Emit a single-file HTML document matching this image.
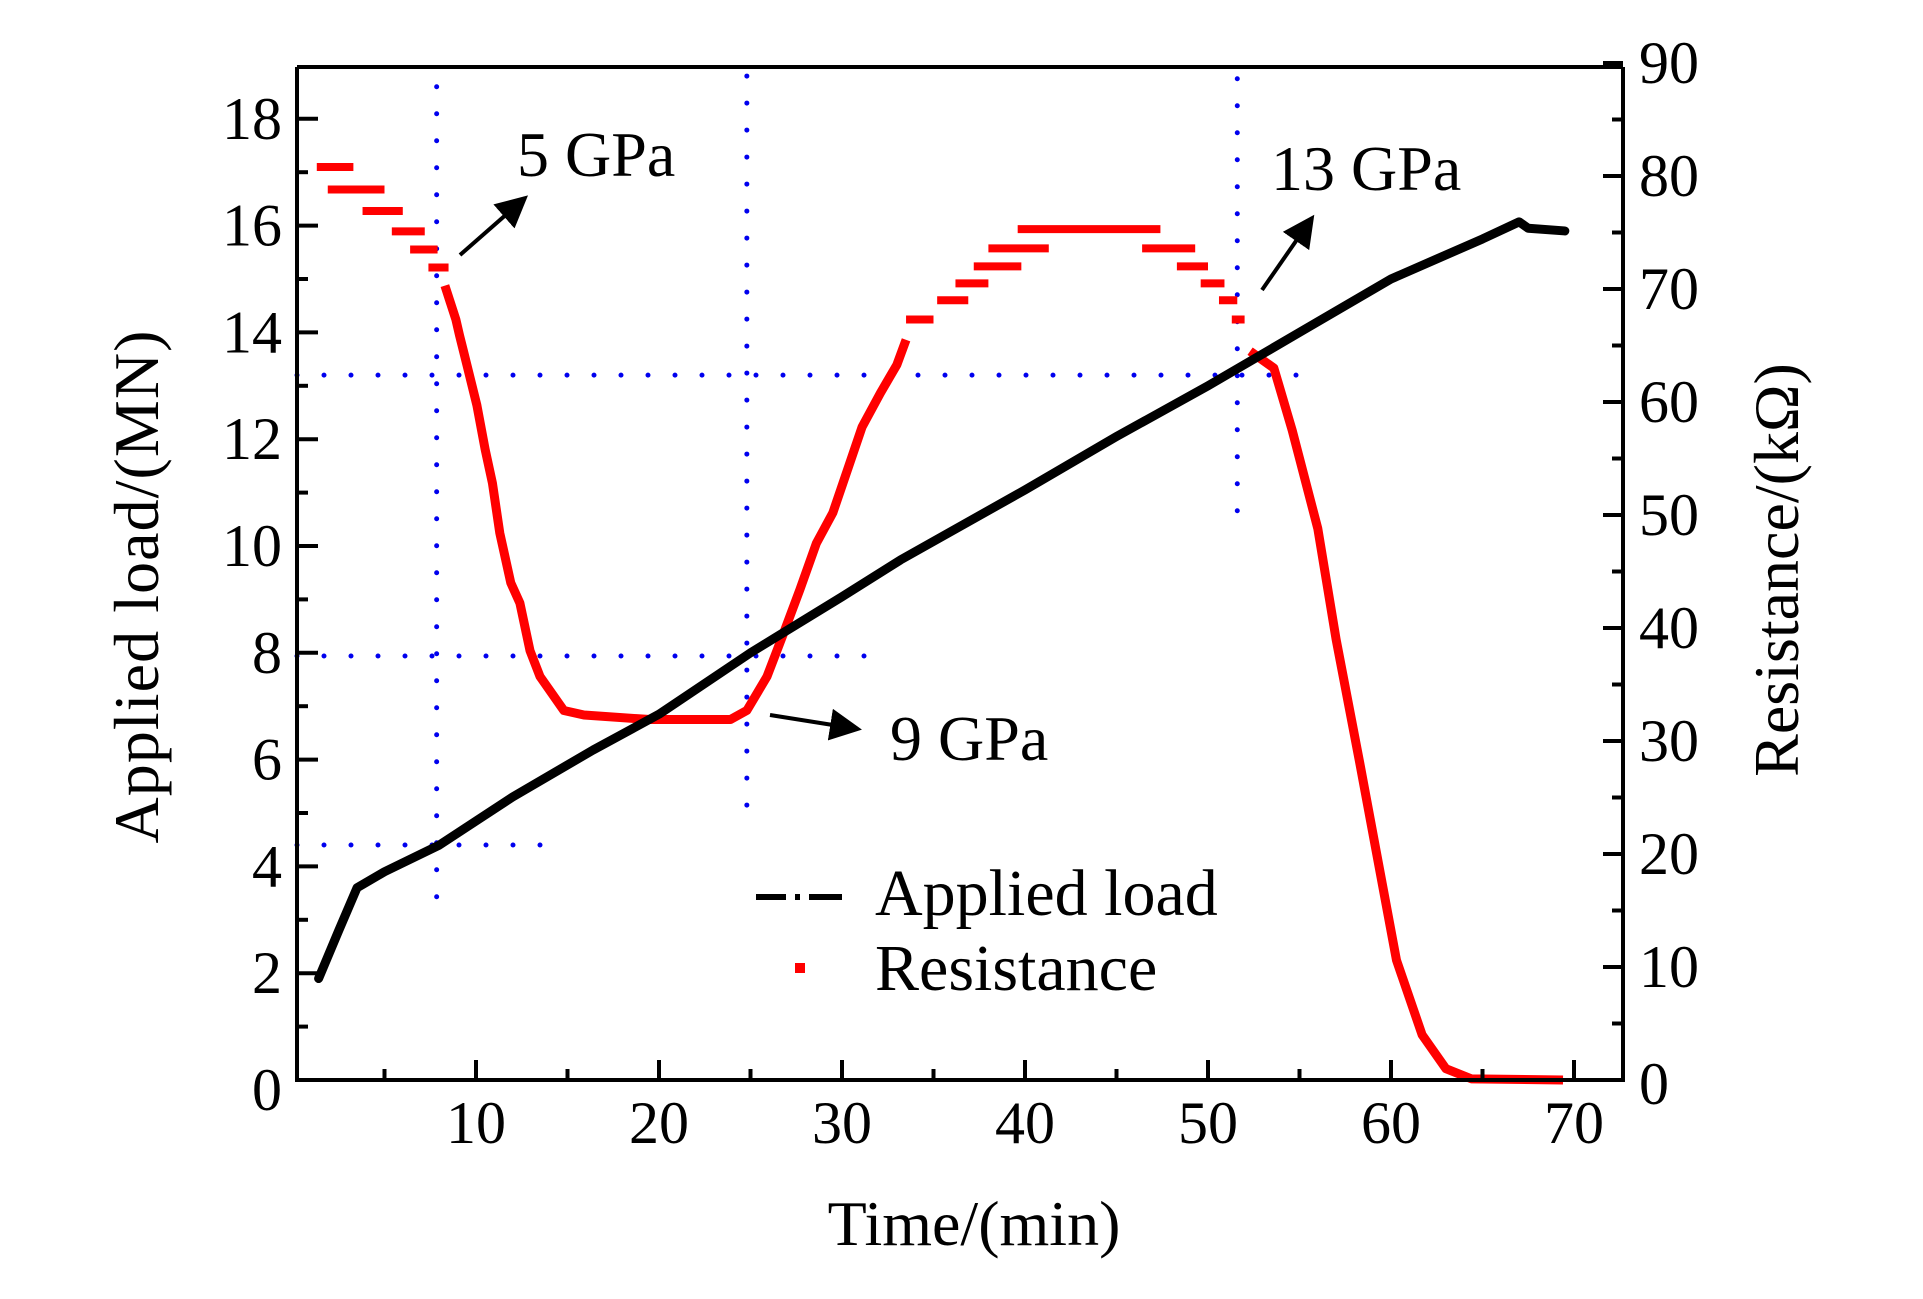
<!DOCTYPE html>
<html><head><meta charset="utf-8"><style>
html,body{margin:0;padding:0;background:#fff;}
svg{display:block;}
text{font-family:"Liberation Serif",serif;fill:#000;}
</style></head><body>
<svg id="chart" width="1923" height="1299" viewBox="0 0 1923 1299" xmlns="http://www.w3.org/2000/svg">
<g id="grid"></g><g id="series"></g><g id="axes"></g><g id="annot"></g>
</svg>
<script>
const timeTicks=[10,20,30,40,50,60,70];
const loadTicks=[0,2,4,6,8,10,12,14,16,18];
const resTicks=[0,10,20,30,40,50,60,70,80,90];
const loadT=[1.4,2.5,3.5,5,8,10,12,16.4,20,25,30,33.2,40,45,50,55,60,65,67,67.5,69.5];
const loadV=[1.9,2.8,3.6,3.9,4.4,4.85,5.3,6.18,6.85,8.0,9.05,9.74,11.05,12.05,13.0,14.0,15.0,15.75,16.07,15.95,15.9];
const stepStart=[1.3,1.9,3.8,5.4,6.4,7.4,33.5,35.2,36.2,37.2,38,39.6,46.4,48.3,49.6,50.6,51.3];
const stepEnd=[3.3,5.0,6.0,7.2,7.9,8.5,35,36.9,38,39.8,41.3,47.4,49.3,50,50.9,51.6,52];
const stepR=[80.8,78.8,76.9,75.1,73.5,71.9,67.3,69,70.5,72,73.6,75.3,73.6,72,70.5,69,67.3];
const dropT=[8.3,8.6,8.9,9.1,9.3,9.5,10.05,10.5,10.9,11.3,11.9,12.4,12.95,13.5,14.8,15.9,19.5,23.9,24.8,25.9,26.8,27.7,28.6,29.5,30.3,31.1,32.1,33,33.5];
const dropR=[70.3,68.8,67.3,65.9,64.6,63.3,59.7,55.8,52.8,48.4,44,42.2,38,35.7,32.7,32.3,31.9,31.9,32.7,35.7,39.5,43.4,47.5,50.2,54,57.8,60.8,63.3,65.5];
const fallT=[52.3,53.6,54.6,56,57,58.3,59.3,60.3,61.7,63,64.4,69.4];
const fallR=[64.5,63,57.5,48.8,39,28,19.3,10.6,4,1,0.1,0];
const refLoads=[13.2,7.94,4.4];
const refLoadEnd=[55.3,32,13.9];
const refTimes=[7.85,24.8,51.6];
const refTimeTopLoad=[18.6,18.8,18.75];
const refTimeBotLoad=[3.1,5.0,10.3];

const L=297,R=1623,T=67,B=1080;
const X=v=>293+v*18.3;
const YL=v=>B-v*53.4;
const YR=v=>B-v*11.3;
const NS="http://www.w3.org/2000/svg";
function mk(tag,attrs,parent,txt){const e=document.createElementNS(NS,tag);for(const k in attrs)e.setAttribute(k,attrs[k]);if(txt!==undefined)e.textContent=txt;document.getElementById(parent).appendChild(e);return e;}

refLoads.forEach((v,i)=>{const e=mk('line',{x1:L,x2:X(refLoadEnd[i]),y1:YL(v),y2:YL(v),stroke:'#0000ee','stroke-width':5,'stroke-dasharray':'0 27','stroke-linecap':'round'},'grid');

});
refTimes.forEach((v,i)=>{const e=mk('line',{x1:X(v),x2:X(v),y1:YL(refTimeTopLoad[i]),y2:YL(refTimeBotLoad[i]),stroke:'#0000ee','stroke-width':5,'stroke-dasharray':'0 27','stroke-linecap':'round'},'grid');

});

stepR.forEach((r,i)=>{const e=mk('line',{x1:X(stepStart[i]),x2:X(stepEnd[i]),y1:YR(r),y2:YR(r),stroke:'#ff0000','stroke-width':8},'series');

});
function poly(ts,vs,name){const p=ts.map((t,i)=>X(t)+','+YR(vs[i])).join(' ');const e=mk('polyline',{points:p,fill:'none',stroke:'#ff0000','stroke-width':9,'stroke-linejoin':'round'},'series');

}
poly(dropT,dropR,'resistance-drop');
poly(fallT,fallR,'resistance-fall');

{const p=loadT.map((t,i)=>X(t)+','+YL(loadV[i])).join(' ');
const e=mk('polyline',{points:p,fill:'none',stroke:'#000','stroke-width':9,'stroke-linejoin':'round','stroke-linecap':'round'},'series');

}

{const e=mk('polyline',{points:`${L},${T} ${L},${B} ${R},${B} ${R},${T}`,fill:'none',stroke:'#000','stroke-width':4},'axes');


const t=mk('line',{x1:L,x2:R,y1:T,y2:T,stroke:'#000','stroke-width':4},'axes');

}
for(let v=5;v<=70;v+=5){const maj=v%10===0;mk('line',{x1:X(v),x2:X(v),y1:B,y2:B-(maj?20:11),stroke:'#000','stroke-width':4},'axes');}
timeTicks.forEach(v=>{const e=mk('text',{x:X(v),y:1143,'font-size':60,'text-anchor':'middle'},'axes',v);

});
for(let v=1;v<=18;v++){const maj=v%2===0;mk('line',{x1:L,x2:L+(maj?21:11),y1:YL(v),y2:YL(v),stroke:'#000','stroke-width':4},'axes');}
loadTicks.forEach(v=>{const e=mk('text',{x:282,y:YL(v)+(v===0?30:20),'font-size':60,'text-anchor':'end'},'axes',v);

});
for(let v=5;v<=90;v+=5){const maj=v%10===0;mk('line',{x1:R,x2:R-(maj?20:11),y1:YR(v),y2:YR(v),stroke:'#000','stroke-width':4},'axes');}
resTicks.forEach(v=>{const e=mk('text',{x:1639,y:YR(v)+(v===0?24:20),'font-size':60},'axes',v);

});
</script>
<svg style="position:absolute;left:0;top:0" width="1923" height="1299" xmlns="http://www.w3.org/2000/svg">
<defs><marker id="ah" markerWidth="8" markerHeight="8" refX="7" refY="4" orient="auto" markerUnits="strokeWidth"><path d="M0,0 L8,4 L0,8 Z" fill="#000"/></marker></defs>
<text x="974" y="1245" font-size="64" text-anchor="middle" style="font-family:'Liberation Serif',serif">Time/(min)</text>
<text transform="translate(158,587) rotate(-90)" font-size="64" text-anchor="middle" textLength="513" style="font-family:'Liberation Serif',serif">Applied load/(MN)</text>
<text transform="translate(1798,570) rotate(-90)" font-size="64" text-anchor="middle" style="font-family:'Liberation Serif',serif">Resistance/(kΩ)</text>
<text x="517" y="176" font-size="64" style="font-family:'Liberation Serif',serif">5 GPa</text>
<text x="890" y="760" font-size="64" style="font-family:'Liberation Serif',serif">9 GPa</text>
<text x="1271" y="190" font-size="64" style="font-family:'Liberation Serif',serif">13 GPa</text>
<line x1="460" y1="255" x2="525" y2="198" stroke="#000" stroke-width="4" marker-end="url(#ah)"/>
<line x1="770" y1="715" x2="858" y2="729" stroke="#000" stroke-width="4" marker-end="url(#ah)"/>
<line x1="1262" y1="290" x2="1312" y2="218" stroke="#000" stroke-width="4" marker-end="url(#ah)"/>
<g>
<line x1="756" y1="897" x2="842" y2="897" stroke="#000" stroke-width="6" stroke-dasharray="30 9 5 9 40"/>
<text x="875" y="915" font-size="66" style="font-family:'Liberation Serif',serif">Applied load</text>
<rect x="795" y="963" width="10" height="10" fill="#ff0000"/>
<text x="875" y="990" font-size="66" style="font-family:'Liberation Serif',serif">Resistance</text>
</g>
</svg>
</body></html>
